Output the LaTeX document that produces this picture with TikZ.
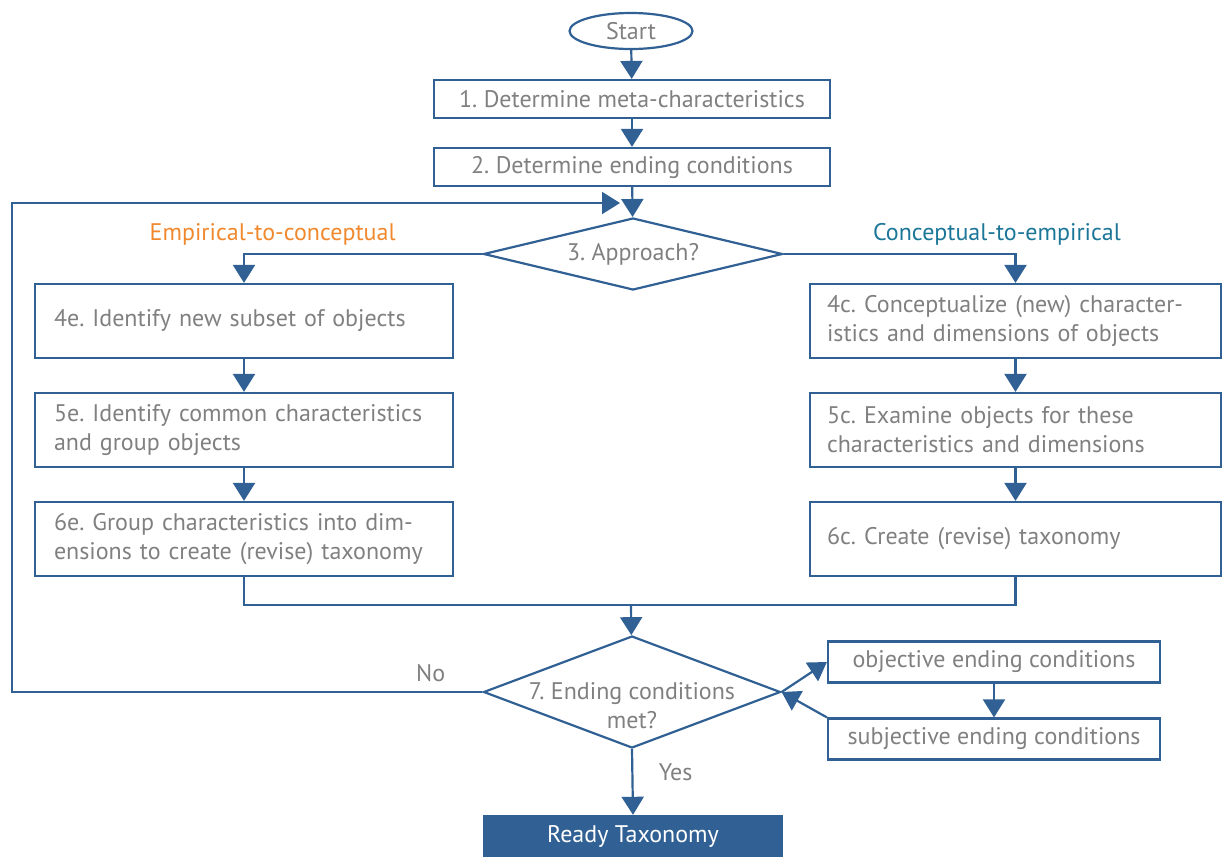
\documentclass[tikz,border=0pt]{standalone}
\usepackage{fontspec}
\setmainfont{PT Sans}
\usetikzlibrary{positioning}
\usetikzlibrary{shapes, arrows, arrows.meta}

\definecolor{flowblue}{RGB}{48,96,148}
\definecolor{flowgrey}{RGB}{128,128,128}
\definecolor{emporange}{RGB}{240,137,46}
\definecolor{concteal}{RGB}{28,118,152}

\begin{document}
\frenchspacing
\begin{tikzpicture}[x=1pt, y=-1pt, node distance=109pt, auto,
    font=\fontsize{24}{29}\selectfont]
    \tikzstyle{decision} = [diamond, draw=flowblue, line width=2.2pt, text=flowgrey,
    aspect=4, inner sep=0pt, align=center]
    \tikzstyle{leftblock} = [rectangle, draw=flowblue, line width=2.2pt, text=flowgrey,
    text width=380pt, inner xsep=19pt, minimum height=74pt, align=left]
    \tikzstyle{rightblock} = [rectangle, draw=flowblue, line width=2.2pt, text=flowgrey,
    text width=377pt, inner xsep=17pt, minimum height=74pt, align=left]
    \tikzstyle{mainbox} = [rectangle, draw=flowblue, line width=2.2pt, text=flowgrey,
    minimum width=396pt, minimum height=38pt, inner sep=0pt, align=center]
    \tikzstyle{condbox} = [rectangle, draw=flowblue, line width=2.2pt, text=flowgrey,
    minimum width=332pt, minimum height=41pt, inner sep=0pt, align=center]
    \tikzstyle{line} = [draw=flowblue, line width=2.2pt, -{Triangle[width=22pt,length=18pt]}]
    \tikzstyle{plain} = [draw=flowblue, line width=2.2pt]
    \useasboundingbox (0,0) rectangle (1223,857);
    \node [ellipse, draw=flowblue, line width=2.2pt, text=flowgrey, minimum width=123pt,
    minimum height=36pt, inner sep=0pt] (start) at (631,31) {Start};
    \node [mainbox] (meta) at (632,99) {1. Determine meta-characteristics};
    \node [mainbox, below of=meta, node distance=68pt] (endcond) {2. Determine ending conditions};
    \node [decision, minimum width=299pt, minimum height=72pt] (approach) at (633,254) {3. Approach?};
    \node [leftblock] (subset) at (244,321) {4e. Identify new subset of objects};
    \node [leftblock, below of=subset] (common) {5e. Identify common characteristics\\and group objects};
    \node [leftblock, below of=common] (groupdim) {6e. Group characteristics into dim-\\ensions to create (revise) taxonomy};
    \node [rightblock] (conceptualize) at (1015.5,321) {4c. Conceptualize (new) character-\\istics and dimensions of objects};
    \node [rightblock, below of=conceptualize] (examine) {5c. Examine objects for these\\characteristics and dimensions};
    \node [rightblock, below of=examine] (create) {6c. Create (revise) taxonomy};
    \node [decision, minimum width=297pt, minimum height=112pt,
    label={[text=flowgrey, align=center, yshift=-14pt]center:7. Ending conditions\\met?}] (met) at (632,692) {};
    \node [condbox] (objective) at (994,662) {objective ending conditions};
    \node [condbox, below of=objective, node distance=77pt] (subjective) {subjective ending conditions};
    \node [rectangle, fill=flowblue, text=white, minimum width=300pt, minimum height=42pt]
    (ready) at (633,836) {Ready Taxonomy};
    \coordinate (merge) at (631,605);
    \coordinate (back) at (12,203);
    \coordinate (loopin) at (620,203);
    \path [line] (start) -- (meta);
    \path [line] (meta) -- (endcond);
    \path [line] (endcond) -- (approach);
    \path [line] (approach.west) -| node [pos=0.44, above=4pt, text=emporange] {Empirical-to-conceptual} (subset.north);
    \path [line] (approach.east) -| node [pos=0.46, above=4pt, text=concteal] {Conceptual-to-empirical} (conceptualize.north);
    \path [line] (subset) -- (common);
    \path [line] (common) -- (groupdim);
    \path [line] (conceptualize) -- (examine);
    \path [line] (examine) -- (create);
    \path [plain] (groupdim.south) |- (merge) -| (create.south);
    \path [line] (merge) -- (met);
    \path [line] (met.west) -| node [pos=0.055, above=6pt, text=flowgrey] {No} (back) -- (loopin);
    \path [line] (met.south) -- node [pos=0.35, right, xshift=22pt, text=flowgrey] {Yes} (ready.north);
    \path [line] (met.east) -- (objective.west);
    \path [line] (objective) -- (subjective);
    \path [line] (subjective.north west) -- (met.east);
\end{tikzpicture}
\end{document}
